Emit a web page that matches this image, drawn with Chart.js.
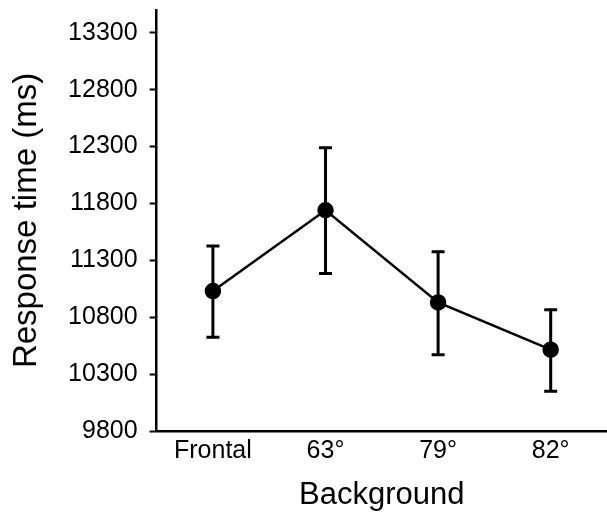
<!DOCTYPE html>
<html>
<head>
<meta charset="utf-8">
<script src="https://cdn.jsdelivr.net/npm/chart.js@4"></script>
<style>
  body { margin: 0; background: #fff; }
  #wrap { width: 607px; height: 512px; }
</style>
</head>
<body>
<div id="wrap"><canvas id="rtChart" width="607" height="512"></canvas></div>
<script>
// values
const aLabels = ["Frontal", "63°", "79°", "82°"];
const aMeans = [11030, 11740, 10930, 10515];
const aUpper = [11425, 12290, 11375, 10865];
const aLower = [10625, 11185, 10470, 10150];
const aYTicks = [9800, 10300, 10800, 11300, 11800, 12300, 12800, 13300];

const sFont = "'Liberation Sans', Arial, Helvetica, sans-serif";

// draws the error bars through the chart scales
const errorBars = {
    id: "errorBars",
    afterDatasetsDraw(chart) {
        const ctx = chart.ctx;
        const x = chart.scales.x;
        const y = chart.scales.y;
        ctx.save();
        ctx.strokeStyle = "#000";
        ctx.lineWidth = 3;
        aLabels.forEach((lab, i) => {
            const px = x.getPixelForValue(i);
            const yTop = y.getPixelForValue(aUpper[i]);
            const yBot = y.getPixelForValue(aLower[i]);
            ctx.beginPath();
            ctx.moveTo(px, yTop);
            ctx.lineTo(px, yBot);
            ctx.moveTo(px - 6.5, yTop);
            ctx.lineTo(px + 6.5, yTop);
            ctx.moveTo(px - 6.5, yBot);
            ctx.lineTo(px + 6.5, yBot);
            ctx.stroke();
        });
        ctx.restore();
    }
};

let rtChart = new Chart(document.getElementById("rtChart").getContext("2d"), {
    type: "line",
    data: {
        labels: aLabels,
        datasets: [{
            data: aMeans,
            borderColor: "#000",
            borderWidth: 2.5,
            backgroundColor: "#000",
            pointRadius: 7,
            pointBackgroundColor: "#000",
            pointBorderColor: "#000",
            tension: 0,
            clip: false
        }]
    },
    options: {
        responsive: false,
        animation: false,
        layout: {
            autoPadding: false,
            padding: { left: 6, top: 10, right: 0, bottom: 0 }
        },
        plugins: {
            legend: { display: false },
            tooltip: { enabled: false }
        },
        scales: {
            x: {
                offset: true,
                afterFit: (scale) => {
                    scale.paddingLeft = 0;
                    scale.paddingRight = 0;
                },
                grid: { display: true, drawOnChartArea: false, drawTicks: false },
                border: { display: true, color: "#000", width: 2.5 },
                ticks: {
                    color: "#000",
                    padding: 8,
                    font: { family: sFont, size: 25, lineHeight: 1 }
                },
                title: {
                    display: true,
                    text: "Background",
                    color: "#000",
                    padding: { top: 8, bottom: 1 },
                    font: { family: sFont, size: 31, lineHeight: 1 }
                }
            },
            y: {
                min: 9800,
                max: 13500,
                afterBuildTicks: (scale) => {
                    scale.ticks = aYTicks.map(v => ({ value: v }));
                },
                afterFit: (scale) => {
                    scale.paddingTop = 0;
                    scale.paddingBottom = 0;
                },
                grid: {
                    drawOnChartArea: false,
                    drawTicks: true,
                    tickLength: 7,
                    tickWidth: 2,
                    tickColor: "#000"
                },
                border: { display: true, color: "#000", width: 2.5 },
                ticks: {
                    color: "#000",
                    padding: 12,
                    font: { family: sFont, size: 25 },
                    callback: (v) => String(v)
                },
                title: {
                    display: true,
                    text: "Response time (ms)",
                    color: "#000",
                    padding: { top: 1.5, bottom: 9 },
                    font: { family: sFont, size: 33 }
                }
            }
        }
    },
    plugins: [errorBars]
});
</script>
</body>
</html>
